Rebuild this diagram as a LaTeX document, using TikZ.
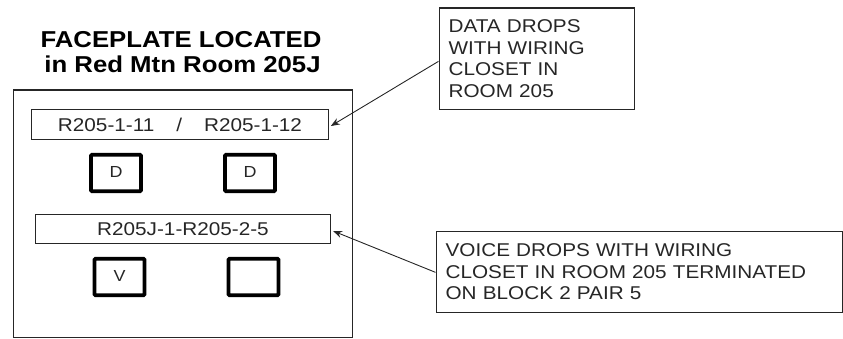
\documentclass[tikz,border=0pt]{standalone}
\usepackage{fontspec}
\setmainfont{Liberation Sans}
\newfontfamily\widesans[FakeStretch=1.12]{Liberation Sans}
\usetikzlibrary{arrows.meta}
\tikzset{
  plate/.style={draw=black!85, line width=1.2pt},
  lblbox/.style={draw=black!85, line width=1.2pt, minimum height=29.5pt, inner sep=0pt,
    font=\widesans\fontsize{18.5}{21}\selectfont, text=black!85},
  jack/.style={draw=black, line width=3.8pt, rounded corners=1pt, minimum width=50pt,
    minimum height=36.5pt, inner sep=0pt, font=\widesans\fontsize{16}{18}\selectfont, text=black!85},
  note/.style={draw=black!85, line width=1.2pt, align=left, anchor=north west, inner xsep=9.5pt,
    inner ysep=0pt, font=\widesans\fontsize{18.5}{21.5}\selectfont, text=black!85},
  titlefont/.style={font=\widesans\bfseries\fontsize{23}{25}\selectfont, inner sep=0pt, anchor=base},
  arr/.style={line width=0.9pt, black!85, -{Stealth[length=9pt,width=7pt]}}
}
\begin{document}
\begin{tikzpicture}[x=1pt,y=-1pt]
\useasboundingbox (0,0) rectangle (843,339);
% title
\node[titlefont] (title1) at (181,48) {FACEPLATE LOCATED};
\node[titlefont] (title2) at (182.5,73) {in Red Mtn Room 205J};
% faceplate
\draw[plate] (13.5,90) rectangle (352.5,337.8);
\node[lblbox, minimum width=296.5pt] (lbl1) at (180,124.5)
  {R205-1-11\hspace{22pt}/\hspace{22pt}R205-1-12};
\node[jack] (d1) at (116,173) {\raisebox{2pt}{D}\hspace{6pt}};
\node[jack] (d2) at (250,173) {\raisebox{2pt}{D}};
\node[lblbox, minimum width=295pt] (lbl2) at (183,229)
  {R205J-1-R205-2-5};
\node[jack] (v1) at (119.5,277) {\raisebox{2pt}{V}\hspace{2pt}};
\node[jack] (e1) at (253.5,277) {};
% notes
\node[note, text width=176pt, minimum height=101.5pt] (data) at (438.5,7.5)
  {DATA DROPS\\WITH WIRING\\CLOSET IN\\ROOM 205};
\node[note, text width=387pt, minimum height=81.5pt] (voice) at (435.5,230.5)
  {VOICE DROPS WITH WIRING\\CLOSET IN ROOM 205 TERMINATED\\ON BLOCK 2 PAIR 5};
% arrows
\draw[arr] ([yshift=-2.5pt]data.west) -- ([xshift=2pt,yshift=-1.5pt]lbl1.east);
\draw[arr] ([yshift=-0.5pt]voice.west) -- ([xshift=2pt,yshift=-2pt]lbl2.east);
\end{tikzpicture}
\end{document}
